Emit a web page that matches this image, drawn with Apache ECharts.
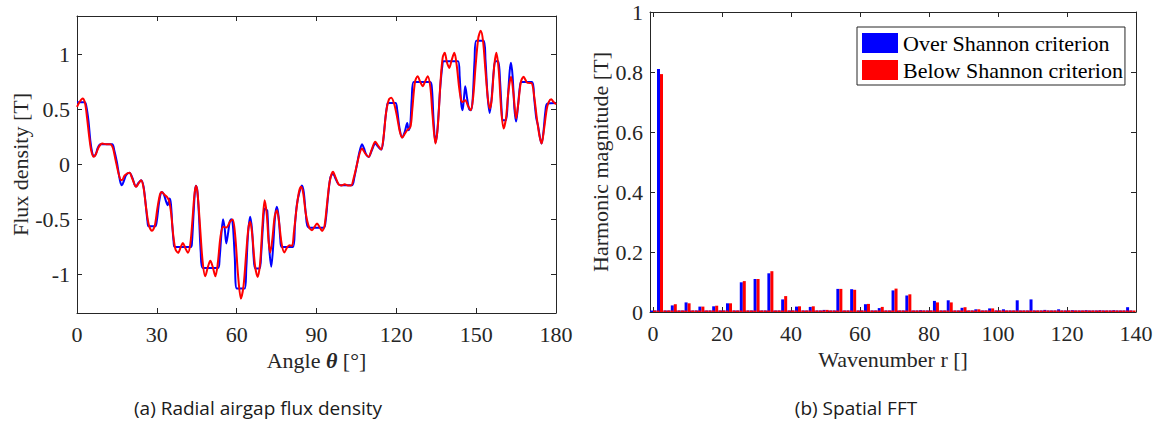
<!DOCTYPE html>
<html>
<head>
<meta charset="utf-8">
<script src="https://cdn.jsdelivr.net/npm/echarts@6/dist/echarts.min.js"></script>
<style>html,body{margin:0;padding:0;background:#fff}#c{width:1161px;height:423px}</style>
</head>
<body>
<div id="c"></div>
<script>
// ---- Left panel: radial airgap flux density ----
const angleTicks = [0, 30, 60, 90, 120, 150, 180];
const fluxTicks = [-1, -0.5, 0, 0.5, 1];

const overAngle = [0,2.9,3.5,4.3,5.0,5.7,6.3,7.0,7.8,8.8,13.2,14.0,15.0,15.8,16.4,16.9,17.6,18.5,19.7,20.8,21.6,22.2,23.0,24.1,25.0,25.8,26.5,26.9,29.4,30.0,30.8,31.5,31.9,32.6,33.4,34.1,34.8,35.3,35.8,36.3,36.7,42.8,43.2,43.8,44.3,44.7,45.2,45.8,46.5,47.2,53.0,53.6,54.3,54.9,55.5,56.1,56.8,57.4,58.0,58.6,59.3,60.1,63.0,63.6,64.3,65.1,65.8,66.4,67.0,68.6,69.2,69.9,70.5,71.1,71.5,72.2,73.0,73.7,74.4,75.1,75.8,76.4,76.9,81.2,81.9,82.6,83.5,84.5,85.2,86.0,87.0,92.7,93.4,94.3,95.2,96.2,97.0,98.0,98.9,103.3,104.2,105.2,106.2,107.1,107.8,108.7,109.6,110.8,112.1,113.2,114.3,115.0,115.8,116.5,116.9,119.7,120.3,121.2,122.2,123.2,124.1,124.6,125.2,125.8,126.5,132.7,133.4,134.0,134.7,135.4,136.5,137.3,137.8,143.2,143.8,144.4,144.9,145.4,145.9,146.6,147.4,148.1,148.7,149.4,150.0,152.8,153.5,154.3,155.1,155.8,156.6,157.2,158.3,159.0,159.6,160.0,161.2,161.9,162.6,163.1,163.7,164.4,165.0,165.6,166.4,167.0,171.0,171.8,172.6,173.3,174.0,174.6,175.3,176.0,176.7,180];
const overFlux = [0.565,0.565,0.53,0.40,0.22,0.11,0.075,0.09,0.15,0.184,0.184,0.13,0.02,-0.10,-0.17,-0.188,-0.15,-0.095,-0.076,-0.12,-0.18,-0.20,-0.17,-0.143,-0.2,-0.36,-0.52,-0.561,-0.561,-0.51,-0.35,-0.26,-0.249,-0.27,-0.33,-0.37,-0.31,-0.36,-0.55,-0.70,-0.749,-0.749,-0.71,-0.45,-0.25,-0.194,-0.23,-0.45,-0.80,-0.94,-0.94,-0.85,-0.62,-0.497,-0.58,-0.718,-0.62,-0.52,-0.497,-0.56,-0.85,-1.128,-1.128,-0.95,-0.62,-0.476,-0.6,-0.85,-0.946,-0.946,-0.82,-0.55,-0.40,-0.41,-0.42,-0.75,-0.93,-0.75,-0.48,-0.385,-0.48,-0.68,-0.749,-0.749,-0.55,-0.37,-0.26,-0.19,-0.25,-0.45,-0.572,-0.575,-0.52,-0.30,-0.12,-0.082,-0.12,-0.17,-0.188,-0.188,-0.12,0.0,0.12,0.184,0.15,0.09,0.069,0.13,0.19,0.16,0.136,0.20,0.40,0.53,0.56,0.56,0.50,0.33,0.245,0.30,0.378,0.312,0.35,0.6,0.751,0.751,0.68,0.40,0.20,0.30,0.70,0.90,0.939,0.939,0.80,0.55,0.494,0.6,0.712,0.6,0.5,0.494,0.6,0.95,1.124,1.124,0.95,0.62,0.469,0.6,0.85,0.939,0.939,0.75,0.48,0.403,0.403,0.6,0.85,0.924,0.8,0.5,0.39,0.5,0.70,0.751,0.751,0.6,0.42,0.347,0.24,0.19,0.3,0.48,0.554,0.56];

const belowAngle = [0,1.0,2.1,3.0,3.8,4.6,5.4,6.3,7.2,8.2,9.5,11.0,12.5,13.5,14.5,15.6,16.5,17.0,17.9,19.7,20.8,22.2,23.2,24.1,25.0,26.0,27.0,28.2,29.2,30.2,31.2,31.9,32.7,33.8,34.6,35.4,36.2,37.0,38.0,39.0,39.8,40.7,41.7,42.6,43.4,44.1,44.7,45.3,46.2,47.2,48.2,49.2,50.1,51.0,52.0,52.9,53.9,54.9,56.1,57.5,58.5,59.5,60.5,61.6,62.6,63.6,64.4,65.1,65.9,66.9,67.9,68.8,69.7,70.5,71.3,72.0,72.6,73.4,74.3,75.1,75.9,76.9,77.9,78.8,79.8,80.8,81.5,82.5,83.4,84.2,85.0,86.0,87.2,88.3,89.2,90.2,91.2,92.1,93.0,94.0,95.0,96.2,97.2,98.3,99.4,100.6,101.8,103.0,104.0,105.2,106.2,107.1,108.3,109.6,110.8,112.1,113.2,114.3,115.2,116.2,117.2,118.1,119.2,120.3,121.3,122.2,123.2,124.1,125.3,126.0,127.0,128.0,129.0,129.9,130.9,131.8,132.8,133.6,134.7,135.6,136.6,137.4,138.2,139.0,139.9,140.8,141.8,142.7,143.6,144.4,144.9,145.9,147.0,148.0,148.9,149.8,150.8,151.7,152.6,153.5,154.4,155.1,155.8,156.8,157.6,158.5,159.4,160.3,161.2,162.2,163.1,164.0,165.0,165.8,166.8,167.8,169.3,170.8,171.8,172.8,173.8,174.6,175.5,176.5,177.3,178.2,179.0,180];
const belowFlux = [0.524,0.57,0.60,0.56,0.42,0.25,0.12,0.07,0.10,0.16,0.19,0.185,0.185,0.15,0.04,-0.08,-0.14,-0.14,-0.10,-0.076,-0.13,-0.203,-0.17,-0.143,-0.21,-0.40,-0.55,-0.603,-0.56,-0.40,-0.27,-0.249,-0.27,-0.295,-0.33,-0.45,-0.65,-0.77,-0.803,-0.75,-0.713,-0.76,-0.803,-0.72,-0.50,-0.28,-0.194,-0.26,-0.55,-0.88,-1.016,-0.93,-0.876,-0.93,-1.016,-0.90,-0.66,-0.567,-0.573,-0.52,-0.50,-0.66,-1.0,-1.219,-1.10,-0.80,-0.58,-0.521,-0.65,-0.92,-1.022,-0.90,-0.55,-0.325,-0.45,-0.70,-0.80,-0.68,-0.47,-0.415,-0.52,-0.72,-0.80,-0.76,-0.733,-0.74,-0.62,-0.40,-0.25,-0.203,-0.26,-0.45,-0.57,-0.598,-0.57,-0.537,-0.57,-0.604,-0.56,-0.35,-0.15,-0.067,-0.12,-0.18,-0.19,-0.18,-0.19,-0.19,-0.12,0.0,0.10,0.145,0.10,0.069,0.14,0.206,0.17,0.136,0.25,0.48,0.59,0.606,0.55,0.43,0.30,0.245,0.28,0.312,0.342,0.50,0.75,0.803,0.75,0.712,0.76,0.803,0.70,0.45,0.19,0.35,0.75,0.97,1.015,0.93,0.878,0.95,1.015,0.90,0.70,0.58,0.569,0.584,0.53,0.494,0.62,0.90,1.15,1.215,1.12,0.85,0.60,0.509,0.58,0.90,1.015,0.85,0.50,0.327,0.42,0.68,0.797,0.65,0.418,0.55,0.75,0.797,0.742,0.74,0.62,0.42,0.26,0.19,0.32,0.50,0.57,0.594,0.57,0.548];

// ---- Right panel: spatial FFT ----
const wavenumberTicks = [0, 20, 40, 60, 80, 100, 120, 140];
const magnitudeTicks = [0, 0.2, 0.4, 0.6, 0.8, 1];
const harmonicOrders = [2,6,10,14,18,22,26,30,34,38,42,46,50,54,58,62,66,70,74,78,82,86,90,94,98,102,106,110,114,118,122,126,130,134,138];
const overShannon  = [0.81,0.022,0.032,0.018,0.019,0.029,0.099,0.110,0.129,0.042,0.018,0.017,0.007,0.077,0.076,0.026,0.013,0.072,0.055,0.006,0.037,0.039,0.014,0.009,0.012,0.009,0.039,0.042,0.007,0.009,0.006,0.006,0.006,0.006,0.016];
const belowShannon = [0.793,0.026,0.029,0.018,0.021,0.029,0.103,0.110,0.136,0.053,0.019,0.019,0.007,0.077,0.074,0.027,0.017,0.078,0.059,0.002,0.032,0.032,0.016,0.009,0.012,0.002,0,0,0,0,0,0,0,0,0];

const seriesNames = ['Over Shannon criterion', 'Below Shannon criterion'];
const titles = {a: '(a) Radial airgap flux density', b: '(b) Spatial FFT'};

// ---- build ----
const pairs = (xs, ys) => xs.map((x, i) => [x, ys[i]]);
const fullSpectrum = (vals) => {
  const out = [];
  for (let r = 0; r < 140; r++) {
    const k = harmonicOrders.indexOf(r);
    out.push([r, k >= 0 ? vals[k] : 0]);
  }
  return out;
};

const FONT = 'Liberation Serif';
const AX = '#262626';
const FS = 22;

function axisBase(extra) {
  return Object.assign({
    type: 'value',
    axisLine: {show: true, onZero: false, lineStyle: {color: AX, width: 1}},
    axisTick: {show: true, inside: true, length: 5, lineStyle: {color: AX}},
    splitLine: {show: false},
    axisLabel: {color: AX, fontFamily: FONT, fontSize: FS},
    nameTextStyle: {color: AX, fontFamily: FONT, fontSize: FS}
  }, extra);
}
function mirror(ax, pos) {
  const m = JSON.parse(JSON.stringify(ax));
  m.position = pos;
  m.axisLabel = Object.assign({}, m.axisLabel, {show: false});
  m.name = '';
  return m;
}

const x0 = axisBase({gridIndex: 0, min: 0, max: 180, interval: 30, position: 'bottom',
  axisLabel: {color: AX, fontFamily: FONT, fontSize: FS, margin: 10},
  name: 'Angle {b|θ} [°]', nameLocation: 'middle', nameGap: 35,
  nameTextStyle: {color: AX, fontFamily: FONT, fontSize: FS,
    rich: {b: {fontFamily: FONT, fontSize: FS, fontWeight: 'bold', fontStyle: 'italic', color: AX}}}
});
const y0 = axisBase({gridIndex: 0, min: -1.35, max: 1.35, position: 'left',
  axisLabel: {color: AX, fontFamily: FONT, fontSize: FS, margin: 7, customValues: fluxTicks},
  axisTick: {show: true, inside: true, length: 5, lineStyle: {color: AX}, customValues: fluxTicks},
  name: 'Flux density [T]', nameLocation: 'middle', nameGap: 45, nameRotate: 90
});
const x2 = axisBase({gridIndex: 1, min: -0.9, max: 140, position: 'bottom',
  axisLabel: {color: AX, fontFamily: FONT, fontSize: FS, margin: 10, customValues: wavenumberTicks},
  axisTick: {show: true, inside: true, length: 5, lineStyle: {color: AX}, customValues: wavenumberTicks},
  name: 'Wavenumber r []', nameLocation: 'middle', nameGap: 35
});
const y2 = axisBase({gridIndex: 1, min: 0, max: 1, position: 'left',
  axisLabel: {color: AX, fontFamily: FONT, fontSize: FS, margin: 7, customValues: magnitudeTicks},
  axisTick: {show: true, inside: true, length: 5, lineStyle: {color: AX}, customValues: magnitudeTicks},
  name: 'Harmonic magnitude [T]', nameLocation: 'middle', nameGap: 39, nameRotate: 90
});

const option = {
  animation: false,
  backgroundColor: '#fff',
  textStyle: {fontFamily: FONT},
  grid: [
    {left: 77, top: 16, width: 479, height: 297, containLabel: false},
    {left: 650, top: 12, width: 486, height: 300, containLabel: false}
  ],
  xAxis: [x0, mirror(x0, 'top'), x2, mirror(x2, 'top')],
  yAxis: [y0, mirror(y0, 'right'), y2, mirror(y2, 'right')],
  legend: {
    data: seriesNames.map(n => ({name: n, icon: 'rect'})),
    orient: 'vertical', left: 857, top: 27,
    itemWidth: 36, itemHeight: 20, itemGap: 5,
    padding: [5, 2, 4, 5],
    borderColor: AX, borderWidth: 1, backgroundColor: '#fff',
    textStyle: {fontFamily: FONT, fontSize: FS, color: '#000'}
  },
  series: [
    {type: 'line', name: 'flux-over', xAxisIndex: 0, yAxisIndex: 0,
     data: pairs(overAngle, overFlux), showSymbol: false, smooth: 0.3,
     lineStyle: {color: '#0000ff', width: 2}, itemStyle: {color: '#0000ff'}},
    {type: 'line', name: 'flux-below', xAxisIndex: 0, yAxisIndex: 0,
     data: pairs(belowAngle, belowFlux), showSymbol: false, smooth: 0.3,
     lineStyle: {color: '#ff0000', width: 2}, itemStyle: {color: '#ff0000'}},
    {type: 'bar', name: seriesNames[0], xAxisIndex: 2, yAxisIndex: 2,
     data: fullSpectrum(overShannon), barWidth: 3, barGap: '0%', barMinHeight: 1.5,
     itemStyle: {color: '#0000ff'}},
    {type: 'bar', name: seriesNames[1], xAxisIndex: 2, yAxisIndex: 2,
     data: fullSpectrum(belowShannon), barWidth: 3, barGap: '0%', barMinHeight: 1.5,
     itemStyle: {color: '#ff0000'}}
  ],
  graphic: [
    {type: 'text', x: 258, y: 408, style: {text: titles.a, font: '19px "Open Sans"', fill: '#1a1a1a', align: 'center', verticalAlign: 'middle'}},
    {type: 'text', x: 856, y: 408, style: {text: titles.b, font: '19px "Open Sans"', fill: '#1a1a1a', align: 'center', verticalAlign: 'middle'}}
  ]
};
const chart = echarts.init(document.getElementById('c'), null, {renderer: 'svg'});
chart.setOption(option);
</script>
</body>
</html>
